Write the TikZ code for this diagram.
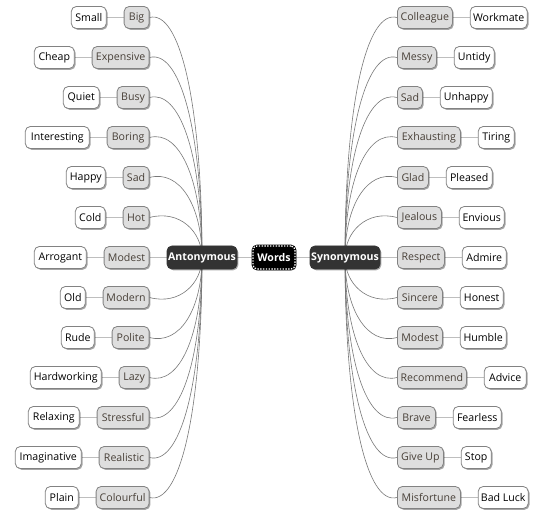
\documentclass[tikz,border=0pt]{standalone}
\usepackage{fontspec}
\setmainfont{Open Sans}
\usetikzlibrary{shadows,positioning,calc}
\pgfdeclarelayer{back}
\pgfdeclarelayer{bg}
\pgfsetlayers{back,bg,main}

\definecolor{bord}{RGB}{130,130,130}
\definecolor{grayfill}{RGB}{222,222,222}
\definecolor{graytext}{RGB}{72,64,56}
\definecolor{linkc}{RGB}{190,190,190}
\definecolor{curvec}{RGB}{120,120,120}
\definecolor{darkfill}{RGB}{51,51,51}

\tikzset{
 base/.style={rounded corners=5pt, draw=bord, line width=0.8pt, minimum height=22pt,
   inner xsep=1pt, inner ysep=0pt, font=\fontsize{10.6}{12}\selectfont,
   drop shadow={shadow xshift=1.3pt, shadow yshift=-1.3pt, opacity=0.35, fill=black}},
 sub/.style={base, fill=grayfill, text=graytext},
 leaf/.style={base, fill=white, text=black},
 mainnode/.style={base, fill=darkfill, draw=darkfill, text=white,
   font=\fontsize{10.6}{12}\selectfont\bfseries, minimum height=23pt, minimum width=70pt},
 link/.style={draw=linkc, line width=1.8pt},
 branch/.style={draw=curvec, line width=0.6pt},
}

\begin{document}
\begin{tikzpicture}[x=1pt,y=1pt]
\begin{pgfonlayer}{back}
\fill[white] (0,0) rectangle (549,519);
\end{pgfonlayer}
\useasboundingbox (0,0) rectangle (549,519);

\node[mainnode] (Ant) at (202,261.5) {Antonymous};
\node[mainnode] (Syn) at (345,261.5) {Synonymous};
\node[rounded corners=4pt, fill=black, draw=black, line width=2.6pt, text=white,
  font=\fontsize{10.6}{12}\selectfont\bfseries, minimum width=42pt, minimum height=23pt,
  inner sep=0pt,
  drop shadow={shadow xshift=1.3pt, shadow yshift=-1.3pt, opacity=0.35, fill=black},
  postaction={draw=white, line width=1.3pt, dash pattern=on 1.4pt off 1.4pt}]
  (W) at (274,261.5) {Words};

% left side
\foreach \k/\g/\gw/\l/\lw in {0/Big/25/Small/35, 1/Expensive/57/Cheap/40, 2/Busy/32/Quiet/36,
  3/Boring/42/Interesting/64, 4/Sad/26/Happy/39, 5/Hot/26/Cold/30, 6/Modest/45/Arrogant/52,
  7/Modern/46/Old/25, 8/Polite/37/Rude/33, 9/Lazy/30/Hardworking/71,
  10/Stressful/52/Relaxing/51, 11/Realistic/50/Imaginative/66, 12/Colourful/53/Plain/33}{
  \pgfmathsetmacro\yy{501.5-40*\k}
  \node[sub, minimum width=\gw pt, anchor=east] (L\k) at (149.5,\yy) {\g};
  \node[leaf, minimum width=\lw pt, left=17pt of L\k] (LL\k) {\l};
}

% right side
\foreach \k/\g/\gw/\l/\lw in {0/Colleague/55/Workmate/57, 1/Messy/39/Untidy/40, 2/Sad/25/Unhappy/52,
  3/Exhausting/63/Tiring/36, 4/Glad/31/Pleased/46, 5/Jealous/44/Envious/45, 6/Respect/47/Admire/44,
  7/Sincere/45/Honest/43, 8/Modest/45/Humble/46, 9/Recommend/69/Advice/42,
  10/Brave/38/Fearless/48, 11/Give Up/46/Stop/30, 12/Misfortune/63/Bad Luck/50}{
  \pgfmathsetmacro\yy{501.5-40*\k}
  \node[sub, minimum width=\gw pt, anchor=west] (R\k) at (397,\yy) {\g};
  \node[leaf, minimum width=\lw pt, right=17pt of R\k] (RR\k) {\l};
}

\begin{pgfonlayer}{bg}
  \draw[link] (Ant) -- (W);
  \draw[link] (W) -- (Syn);
  \draw[link] (L6) -- (Ant);
  \draw[link] (Syn) -- (R6);
  \foreach \k in {0,...,12}{
    \draw[link] (LL\k) -- (L\k);
    \draw[link] (R\k) -- (RR\k);
  }
  \foreach \k in {0,1,2,3,4,5,7,8,9,10,11,12}{
    \pgfmathsetmacro\dy{240-40*\k}
    \pgfmathsetmacro\s{sign(\dy)}
    \pgfmathsetmacro\off{0.35*abs(\dy)}
    \pgfmathsetmacro\cy{\dy-\s*\off}
    \draw[branch] (L\k.east) .. controls ($(L\k.east)+(30,8*\s)$) and ($(Ant.center)+(0,\cy)$) .. (Ant.center);
    \draw[branch] (R\k.west) .. controls ($(R\k.west)+(-30,8*\s)$) and ($(Syn.center)+(0,\cy)$) .. (Syn.center);
  }
\end{pgfonlayer}
\end{tikzpicture}
\end{document}
